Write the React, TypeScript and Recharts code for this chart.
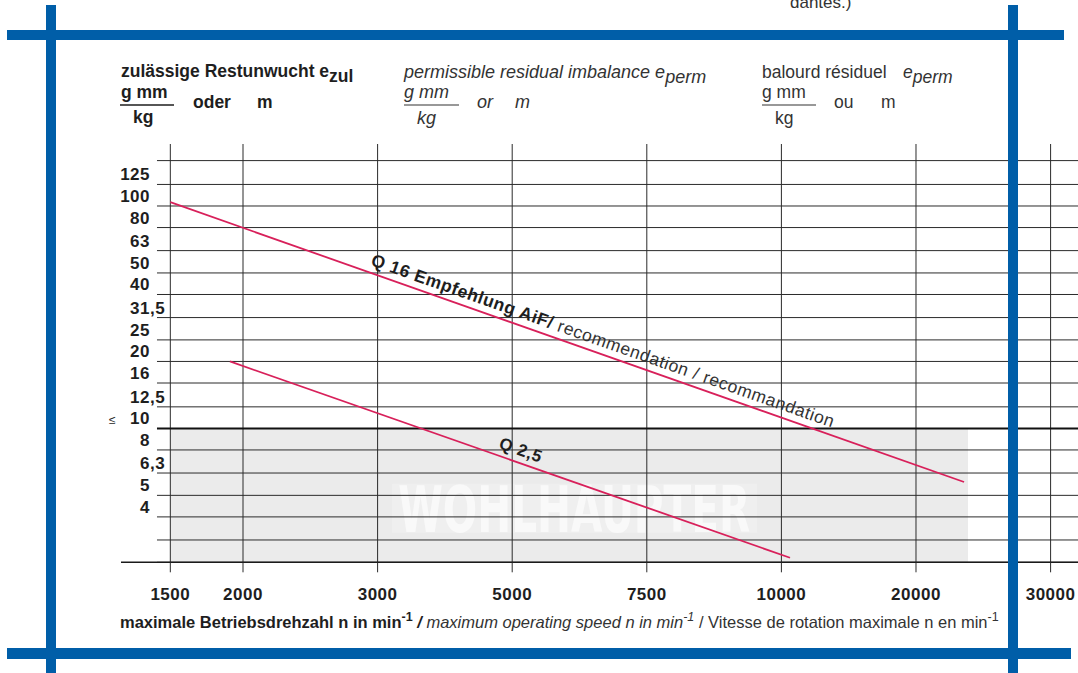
import React from 'react';
import { ComposedChart, Line, XAxis, YAxis, ReferenceLine, ReferenceArea } from 'recharts';

// ---- axis definition (the chart uses a non-uniform speed scale) ----
const xTickValues = [1500, 2000, 3000, 5000, 7500, 10000, 20000, 30000];
const xTickSlots = [0.46, 1, 2, 3, 4, 5, 6, 7];
const yTickValues = [160, 125, 100, 80, 63, 50, 40, 31.5, 25, 20, 16, 12.5, 10, 8, 6.3, 5, 4, 3.15, 2.5];
const yTickLabels = ['', '125', '100', '80', '63', '50', '40', '31,5', '25', '20', '16', '12,5', '10', '8', '6,3', '5', '4', '', ''];
const limitValue = 10;

// ---- series ----
const q16Speed = [1500, 23570];
const q16Values = [104, 5.74];
const q25Speed = [1910, 10640];
const q25Values = [20.0, 2.62];
const shadeSpeed = [1500, 23860];
const shadeValues = [2.5, 10];

const X_DOMAIN: [number, number] = [0.0936, 7.2036];
const Y_DOMAIN: [number, number] = [2.5, 190];
const GRID_LEFT_SLOT = 0.361;

const FONT = '"Liberation Sans", Arial, Helvetica, sans-serif';
const BLUE = '#005ea8';
const RED = '#d8205a';
const GRID = '#2b2b2b';

function speedToSlot(rpm: number): number {
  for (let i = 0; i < xTickValues.length - 1; i++) {
    const a = xTickValues[i];
    const b = xTickValues[i + 1];
    if (rpm <= b || i === xTickValues.length - 2) {
      return xTickSlots[i] + ((rpm - a) / (b - a)) * (xTickSlots[i + 1] - xTickSlots[i]);
    }
  }
  return xTickSlots[0];
}

const q16Data = q16Speed.map((s, i) => ({ pos: speedToSlot(s), e: q16Values[i] }));
const q25Data = q25Speed.map((s, i) => ({ pos: speedToSlot(s), e: q25Values[i] }));

const XTick = (props: any) => {
  const { x, y, payload } = props;
  const idx = xTickSlots.indexOf(payload.value);
  const label = idx >= 0 ? String(xTickValues[idx]) : '';
  return (
    <text x={x} y={y} dy={27.2} textAnchor="middle" fontFamily={FONT} fontWeight="bold"
      fontSize={17} letterSpacing={0.5} fill="#1e1e1e">
      {label}
    </text>
  );
};

const YTick = (props: any) => {
  const { x, y, payload } = props;
  const idx = yTickValues.indexOf(payload.value);
  const label = idx >= 0 ? yTickLabels[idx] : '';
  if (!label) return <g />;
  const [intPart, frac] = label.split(',');
  const ax = x + 29;
  const by = y - 4;
  return (
    <g fontFamily={FONT} fill="#1e1e1e">
      {payload.value === limitValue && (
        <text x={ax - 41} y={y - 4.3} fontSize={12}>≤</text>
      )}
      <text x={ax} y={by} textAnchor="end" fontWeight="bold" fontSize={17} letterSpacing={0.5}>{intPart}</text>
      {frac && (
        <text x={ax} y={by} textAnchor="start" fontWeight="bold" fontSize={17} letterSpacing={0.5}>{',' + frac}</text>
      )}
    </g>
  );
};

const ShadeShape = (props: any) => {
  const { x, y, width, height } = props;
  if (x == null) return <g />;
  const cx = x + width / 2 + 5;
  const cy = y + height / 2 + 13;
  return (
    <g>
      <rect x={x} y={y} width={width} height={height} fill="#ebebeb" />
      <rect x={cx - 182} y={cy - 24.5} width={365} height={49} fill="#efefef" />
      <text x={cx} y={cy + 24} textAnchor="middle" fontFamily='"DejaVu Sans Condensed", "DejaVu Sans", sans-serif'
        fontWeight="bold" fontSize={64} fill="#f9f9f9" textLength={352} lengthAdjust="spacingAndGlyphs">
        WOHLHAUPTER
      </text>
    </g>
  );
};

const Overlay = () => (
  <svg width={1078} height={673} style={{ position: 'absolute', left: 0, top: 0, pointerEvents: 'none' }}
    fontFamily={FONT}>
    {/* blue frame */}
    <rect x={7} y={30} width={1057} height={10} fill={BLUE} />
    <rect x={7} y={648} width={1064} height={11} fill={BLUE} />
    <rect x={46} y={5} width={10} height={668} fill={BLUE} />
    <rect x={1008} y={5} width={10} height={668} fill={BLUE} />

    <text x={790} y={8} fontSize={17} fill="#333">dantes.)</text>

    {/* German header */}
    <g fill="#1e1e1e" fontWeight="bold" fontSize={17.5}>
      <text x={121} y={77}>zulässige Restunwucht e<tspan dy={5}>zul</tspan></text>
      <text x={121} y={98}>g mm</text>
      <text x={133} y={123}>kg</text>
      <text x={193} y={108}>oder</text>
      <text x={257} y={108}>m</text>
    </g>
    <line x1={120} x2={174} y1={105} y2={105} stroke="#1e1e1e" strokeWidth={1.5} />

    {/* English header */}
    <g fill="#333" fontStyle="italic" fontSize={18}>
      <text x={404} y={78}>permissible residual imbalance e<tspan dy={5}>perm</tspan></text>
      <text x={404} y={98}>g mm</text>
      <text x={417} y={124}>kg</text>
      <text x={477} y={108}>or</text>
      <text x={515} y={108}>m</text>
    </g>
    <line x1={404} x2={459} y1={105} y2={105} stroke="#333" strokeWidth={1.2} />

    {/* French header */}
    <g fill="#333" fontSize={17.5}>
      <text x={762} y={78}>balourd résiduel</text>
      <text x={903} y={78} fontStyle="italic">e<tspan dy={5}>perm</tspan></text>
      <text x={762} y={98}>g mm</text>
      <text x={775} y={124}>kg</text>
      <text x={834} y={108}>ou</text>
      <text x={881} y={108}>m</text>
    </g>
    <line x1={762} x2={816} y1={105} y2={105} stroke="#333" strokeWidth={1.2} />

    {/* axis title */}
    <text x={120} y={628} fontSize={16.5} fill="#1e1e1e">
      <tspan fontWeight="bold">maximale Betriebsdrehzahl n in min</tspan>
      <tspan fontWeight="bold" fontSize={12.5} dy={-7}>-1</tspan>
      <tspan dy={7} fontWeight="bold" fontStyle="italic"> / </tspan>
      <tspan fontStyle="italic" fill="#333">maximum operating speed n in  min</tspan>
      <tspan fontStyle="italic" fill="#333" fontSize={12.5} dy={-7}>-1</tspan>
      <tspan dy={7} fill="#333"> / Vitesse de rotation maximale n en min</tspan>
      <tspan fontSize={12.5} dy={-7} fill="#333">-1</tspan>
    </text>

    {/* series labels */}
    <text x={370} y={265} transform="rotate(19.4 370 265)" fontSize={17.5} letterSpacing={0.55} fill="#1e1e1e">
      <tspan fontWeight="bold">Q 16 Empfehlung AiF/</tspan>
      <tspan fill="#333"> recommendation / recommandation</tspan>
    </text>
    <text x={498} y={448} transform="rotate(19.4 498 448)" fontSize={17} letterSpacing={0.6}
      fontWeight="bold" fill="#1e1e1e">Q 2,5</text>
  </svg>
);

export default function App() {
  return (
    <div style={{ position: 'absolute', left: 0, top: 0, width: 1078, height: 673, background: '#fff' }}>
      <ComposedChart width={1078} height={673} margin={{ top: 144, right: 0, bottom: 0, left: 0 }}>
        <XAxis type="number" dataKey="pos" domain={X_DOMAIN} allowDataOverflow ticks={xTickSlots}
          interval={0} height={110.7} tickSize={10} tickMargin={0}
          axisLine={{ stroke: '#1a1a1a', strokeWidth: 1.5 }} tickLine={{ stroke: GRID, strokeWidth: 1 }}
          tick={<XTick />} />
        <YAxis type="number" scale="log" domain={Y_DOMAIN} allowDataOverflow ticks={yTickValues}
          interval={0} width={121} tickSize={0} tickMargin={0} axisLine={false} tickLine={false}
          tick={<YTick />} />
        <ReferenceArea x1={speedToSlot(shadeSpeed[0])} x2={speedToSlot(shadeSpeed[1])}
          y1={shadeValues[0]} y2={shadeValues[1]} shape={<ShadeShape />} ifOverflow="visible" />
        {xTickSlots.map((s) => (
          <ReferenceLine key={'v' + s} x={s} stroke={GRID} strokeWidth={1} ifOverflow="visible" />
        ))}
        {yTickValues.map((v) => (
          <ReferenceLine key={'h' + v}
            segment={[{ x: GRID_LEFT_SLOT, y: v }, { x: X_DOMAIN[1], y: v }]}
            stroke={v === limitValue ? '#111' : GRID} strokeWidth={v === limitValue ? 2 : 1}
            ifOverflow="visible" />
        ))}
        <Line data={q16Data} dataKey="e" stroke={RED} strokeWidth={1.8} dot={false}
          isAnimationActive={false} />
        <Line data={q25Data} dataKey="e" stroke={RED} strokeWidth={1.8} dot={false}
          isAnimationActive={false} />
      </ComposedChart>
      <Overlay />
    </div>
  );
}
